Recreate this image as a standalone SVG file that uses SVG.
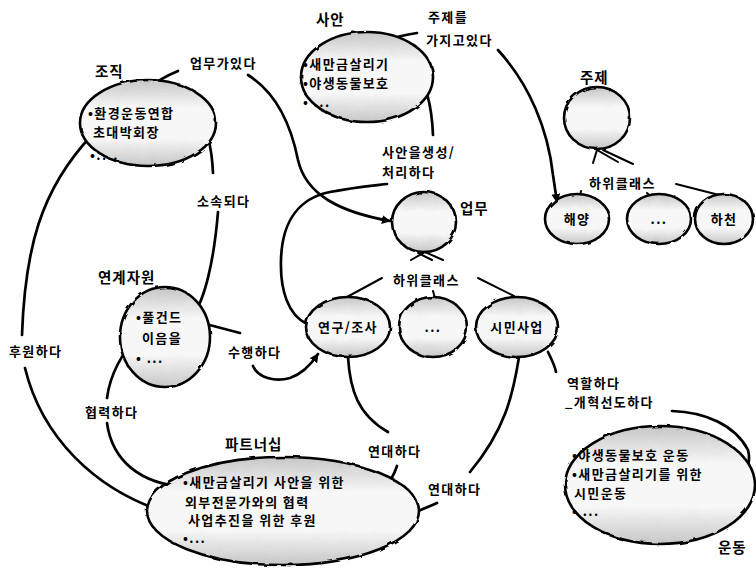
<svg xmlns="http://www.w3.org/2000/svg" width="756" height="571" viewBox="0 0 756 571">
<defs>
<linearGradient id="shade" x1="0" y1="0" x2="0" y2="1">
<stop offset="0" stop-color="#c6c6c6"/>
<stop offset="0.32" stop-color="#f7f7f7"/>
<stop offset="0.68" stop-color="#f7f7f7"/>
<stop offset="1" stop-color="#c6c6c6"/>
</linearGradient>
<filter id="rough" x="-10%" y="-10%" width="120%" height="120%">
<feTurbulence type="fractalNoise" baseFrequency="0.08" numOctaves="2" seed="3"/>
<feDisplacementMap in="SourceGraphic" scale="3"/>
</filter>
<marker id="arr" viewBox="0 0 10 10" refX="9" refY="5" markerWidth="9" markerHeight="9" markerUnits="userSpaceOnUse" orient="auto-start-reverse">
<path d="M0,0 L10,5 L0,10 z" fill="#000"/>
</marker>
</defs>
<style>
.shape{fill:url(#shade);stroke:#000;stroke-width:2.6;filter:url(#rough)}
.t{font-family:"Noto Sans CJK KR","Noto Sans",sans-serif;font-weight:bold;font-size:13px;letter-spacing:1.4px;fill:#000}
.lbl{font-family:"Noto Sans CJK KR","Noto Sans",sans-serif;font-weight:bold;font-size:14.5px;letter-spacing:1px;fill:#000}
.c{text-anchor:middle}
.ln{fill:none;stroke:#000;stroke-width:2.7;stroke-linecap:round}
.thin{fill:none;stroke:#000;stroke-width:2;stroke-linecap:round}
</style>
<rect width="756" height="571" fill="#fff"/>

<g id="connectors">
<path class="ln" d="M135,108 Q142,86 178,71"/>
<path class="ln" d="M248,75 C280,95 292,130 298,160 C306,195 340,212 390,221" marker-end="url(#arr)"/>
<path class="ln" d="M362,56 C372,44 395,36 417,33"/>
<path class="ln" d="M498,50 C530,85 548,130 553,175 L557,202" marker-end="url(#arr)"/>
<path class="ln" d="M307,324 C288,315 280,290 281,260 C282,220 300,198 330,192 C350,188 370,186 387,184"/>
<path class="ln" d="M433,135 C432,110 428,85 414,65" marker-end="url(#arr)"/>
<path class="ln" d="M192,317 C205,300 214,260 218,212"/>
<path class="ln" d="M213,173 C212,150 207,127 197,114" marker-end="url(#arr)"/>
<path class="ln" d="M183,318 L240,333"/>
<path class="ln" d="M253,366 C258,378 275,382 290,378 C302,374 312,363 318,354" marker-end="url(#arr)"/>
<path class="ln" d="M22,335 C25,250 40,190 92,135" marker-end="url(#arr)"/>
<path class="ln" d="M25,368 C40,430 90,495 186,518"/>
<path class="ln" d="M107,398 C110,375 122,352 137,339" marker-end="url(#arr)"/>
<path class="ln" d="M107,423 C112,460 140,485 188,487"/>
<path class="ln" d="M348,357 C350,390 358,415 388,432"/>
<path class="ln" d="M397,466 C394,475 390,482 384,488" marker-end="url(#arr)"/>
<path class="ln" d="M519,357 C513,395 505,430 470,472"/>
<path class="ln" d="M437,503 C420,510 405,518 385,520" marker-end="url(#arr)"/>
<path class="ln" d="M548,352 C552,360 555,366 556,372"/>
<path class="ln" d="M672,411 C705,412 735,425 748,450 C752,465 745,475 731,479" marker-end="url(#arr)"/>
<path class="thin" d="M593,163 L597,150 L618,162"/>
<path class="thin" d="M603,150 L633,164"/>
<path class="thin" d="M581,191 L580,197"/>
<path class="thin" d="M647,193 L655,200"/>
<path class="thin" d="M676,184 L727,197"/>
<path class="thin" d="M411,260 L425,252 L443,260"/>
<path class="thin" d="M418,253 L432,260"/>
<path class="thin" d="M382,278 L347,297"/>
<path class="thin" d="M433,291 L435,298"/>
<path class="thin" d="M478,278 L514,296"/>
<text class="t" x="190" y="68">업무가있다</text>
<text class="t" x="428" y="22">주제를</text>
<text class="t" x="426" y="45">가지고있다</text>
<text class="t" x="382" y="157">사안을생성/</text>
<text class="t" x="382" y="177">처리하다</text>
<text class="t" x="589" y="188">하위클래스</text>
<text class="t" x="197" y="206">소속되다</text>
<text class="t" x="393" y="285">하위클래스</text>
<text class="t" x="228" y="357">수행하다</text>
<text class="t" x="9" y="356">후원하다</text>
<text class="t" x="85" y="417">협력하다</text>
<text class="t" x="368" y="456">연대하다</text>
<text class="t" x="428" y="494">연대하다</text>
<text class="t" x="567" y="388">역할하다</text>
<text class="t" x="565" y="407">_개혁선도하다</text>
</g>

<g id="org">
<ellipse class="shape" cx="148" cy="123" rx="68" ry="43"/>
<text class="lbl" x="95" y="77">조직</text>
<text class="t" x="88" y="118">•환경운동연합</text>
<text class="t" x="93" y="137">초대박회장</text>
<text class="t" x="90" y="160">•....</text>
</g>

<g id="issue">
<ellipse class="shape" cx="367" cy="77" rx="66" ry="45"/>
<text class="lbl" x="316" y="25">사안</text>
<text class="t" x="303" y="69">•새만금살리기</text>
<text class="t" x="303" y="88">•야생동물보호</text>
<text class="t" x="303" y="107">• ...</text>
</g>

<g id="topic">
<ellipse class="shape" cx="597" cy="118" rx="33" ry="31"/>
<text class="lbl" x="580" y="83">주제</text>
</g>
<g id="ocean">
<ellipse class="shape" cx="577" cy="219" rx="32" ry="25"/>
<text class="t c" x="577" y="224">해양</text>
</g>
<g id="topic-etc">
<ellipse class="shape" cx="659" cy="219" rx="32" ry="25"/>
<text class="t c" x="659" y="224">...</text>
</g>
<g id="river">
<ellipse class="shape" cx="724" cy="219" rx="29" ry="25"/>
<text class="t c" x="724" y="224">하천</text>
</g>

<g id="work">
<ellipse class="shape" cx="424" cy="222" rx="32" ry="30"/>
<text class="lbl" x="460" y="214">업무</text>
</g>
<g id="research">
<ellipse class="shape" cx="348" cy="327" rx="42" ry="30"/>
<text class="t c" x="348" y="332">연구/조사</text>
</g>
<g id="work-etc">
<ellipse class="shape" cx="433" cy="327" rx="34" ry="30"/>
<text class="t c" x="433" y="332">...</text>
</g>
<g id="civic">
<ellipse class="shape" cx="517" cy="327" rx="41" ry="30"/>
<text class="t c" x="517" y="332">시민사업</text>
</g>

<g id="resource">
<ellipse class="shape" cx="165" cy="337" rx="45" ry="50"/>
<text class="lbl" x="98" y="283">연계자원</text>
<text class="t" x="136" y="322">•풀건드</text>
<text class="t" x="142" y="343">이음을</text>
<text class="t" x="136" y="363">• ...</text>
</g>

<g id="partnership">
<ellipse class="shape" cx="283" cy="511" rx="136" ry="54"/>
<text class="lbl" x="225" y="450">파트너십</text>
<text class="t" x="183" y="487">•새만금살리기 사안을 위한</text>
<text class="t" x="185" y="507">외부전문가와의 협력</text>
<text class="t" x="188" y="525">사업추진을 위한 후원</text>
<text class="t" x="183" y="543">•...</text>
</g>

<g id="movement">
<ellipse class="shape" cx="660" cy="485" rx="95" ry="59"/>
<text class="lbl" x="718" y="553">운동</text>
<text class="t" x="572" y="460">•야생동물보호 운동</text>
<text class="t" x="572" y="479">•새만금살리기를 위한</text>
<text class="t" x="574" y="498">시민운동</text>
<text class="t" x="572" y="516">• ...</text>
</g>
</svg>
